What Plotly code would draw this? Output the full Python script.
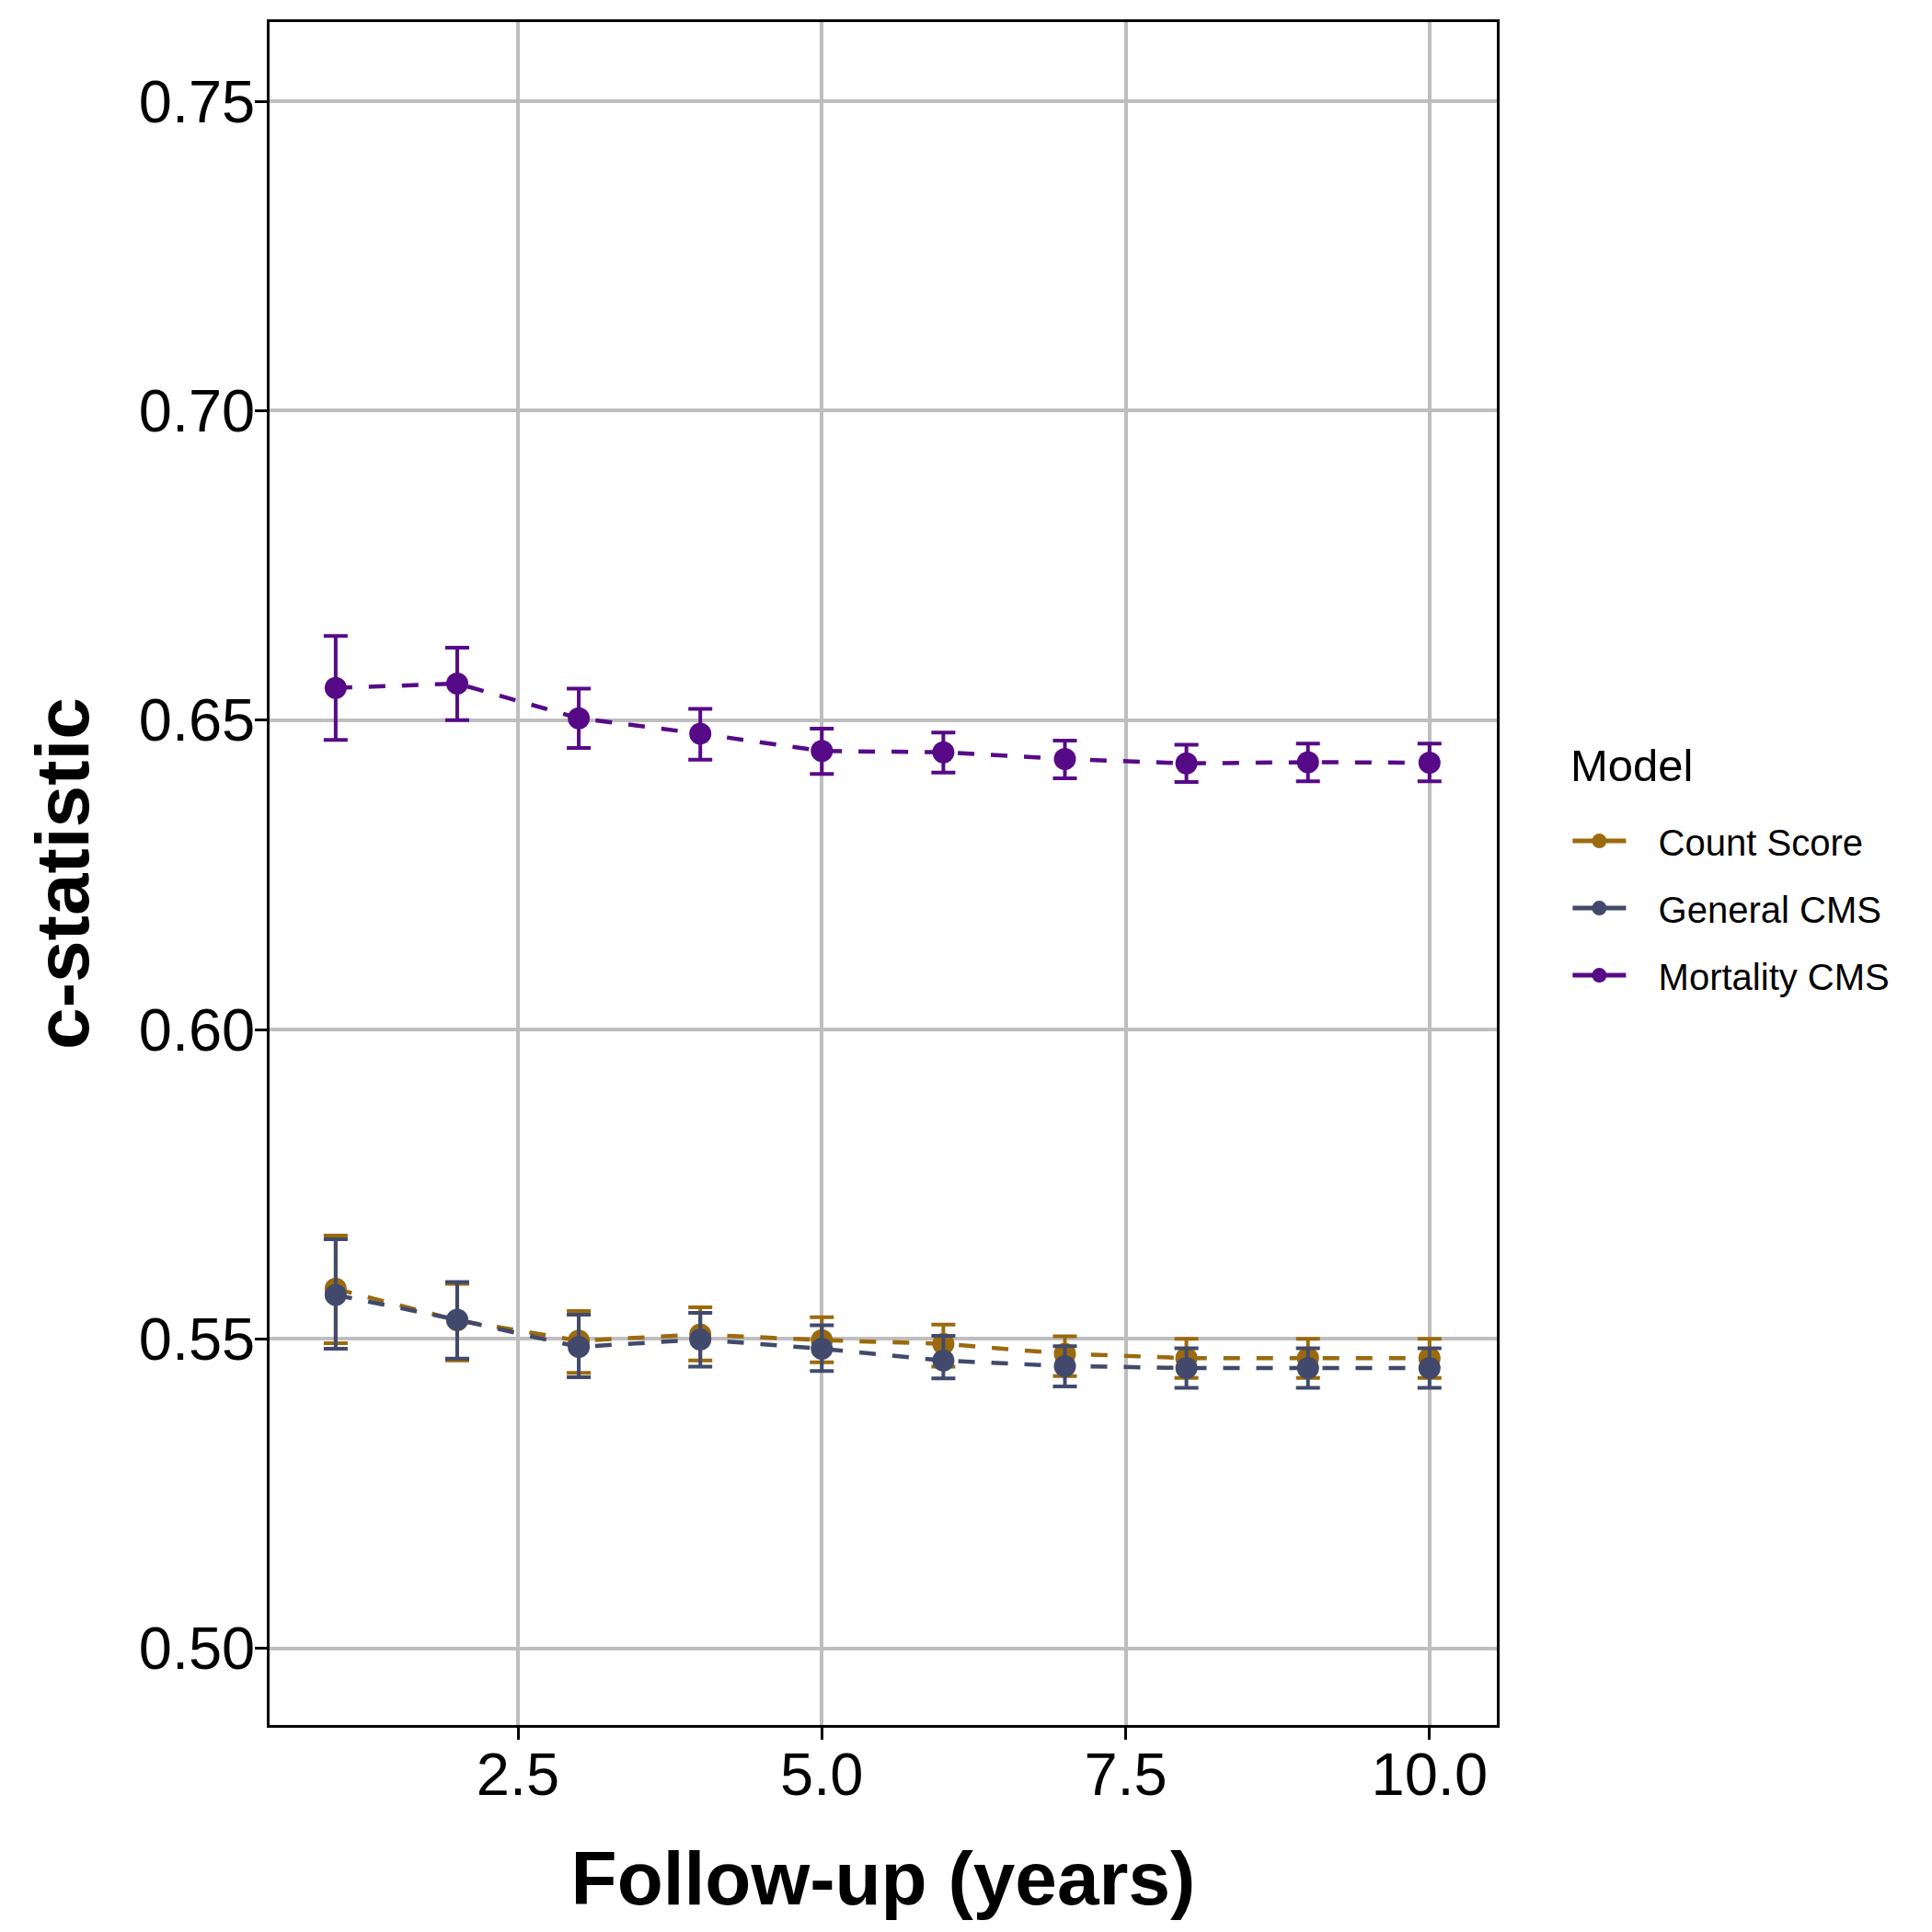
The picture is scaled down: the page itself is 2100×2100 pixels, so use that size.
import plotly.graph_objects as go

years = [1, 2, 3, 4, 5, 6, 7, 8, 9, 10]
models = ["Count Score", "General CMS", "Mortality CMS"]

count_score = [0.5581, 0.5530, 0.5497, 0.5507, 0.5498, 0.5492, 0.5476, 0.5469, 0.5469, 0.5469]
count_lo = [0.5493, 0.5465, 0.5445, 0.5465, 0.5462, 0.5455, 0.5440, 0.5437, 0.5437, 0.5437]
count_hi = [0.5667, 0.5589, 0.5545, 0.5551, 0.5535, 0.5523, 0.5504, 0.5500, 0.5500, 0.5500]

general_cms = [0.5571, 0.5531, 0.5487, 0.5499, 0.5484, 0.5465, 0.5456, 0.5453, 0.5453, 0.5453]
general_lo = [0.5484, 0.5468, 0.5438, 0.5455, 0.5448, 0.5436, 0.5423, 0.5421, 0.5421, 0.5421]
general_hi = [0.5661, 0.5592, 0.5539, 0.5542, 0.5522, 0.5505, 0.5488, 0.5485, 0.5485, 0.5485]

mortality_cms = [0.6552, 0.6559, 0.6503, 0.6478, 0.6450, 0.6448, 0.6437, 0.6430, 0.6432, 0.6431]
mortality_lo = [0.6468, 0.6500, 0.6455, 0.6436, 0.6413, 0.6415, 0.6406, 0.6400, 0.6401, 0.6401]
mortality_hi = [0.6636, 0.6617, 0.6551, 0.6518, 0.6486, 0.6480, 0.6467, 0.6460, 0.6462, 0.6462]

y_ticks = [0.50, 0.55, 0.60, 0.65, 0.70, 0.75]
x_ticks = [2.5, 5.0, 7.5, 10.0]

colors = ["#9B6A0E", "#414A6C", "#570A87"]
FONT = "Liberation Sans, Arial, sans-serif"


def make_trace(name, values, lo, hi, color):
    return go.Scatter(
        x=years,
        y=values,
        name=name,
        showlegend=False,
        mode="lines+markers",
        line=dict(color=color, width=4.5, dash="18px,18px"),
        marker=dict(color=color, size=24),
        error_y=dict(
            type="data",
            symmetric=False,
            array=[h - v for h, v in zip(hi, values)],
            arrayminus=[v - l for v, l in zip(values, lo)],
            color=color,
            thickness=4,
            width=13,
        ),
    )


def legend_key(name, color):
    # empty trace, only used to get a solid-line key like ggplot's legend
    return go.Scatter(
        x=[None],
        y=[None],
        name="\u00a0\u00a0\u2009" + name,
        legendgroup=name,
        mode="lines+markers",
        line=dict(color=color, width=5),
        marker=dict(color=color, size=24),
    )


fig = go.Figure()
fig.add_traces([
    make_trace(models[0], count_score, count_lo, count_hi, colors[0]),
    make_trace(models[1], general_cms, general_lo, general_hi, colors[1]),
    make_trace(models[2], mortality_cms, mortality_lo, mortality_hi, colors[2]),
])
fig.add_traces([legend_key(m, c) for m, c in zip(models, colors)])

axis_common = dict(
    showgrid=True,
    gridcolor="#BEBEBE",
    gridwidth=3.5,
    showline=True,
    linecolor="black",
    linewidth=2.5,
    mirror=True,
    ticks="outside",
    ticklen=13,
    tickwidth=2.5,
    tickcolor="black",
    zeroline=False,
    tickfont=dict(family=FONT, size=65, color="black"),
)

# the page body adds an 8px offset, so margins are pulled in by 8px
fig.update_layout(
    width=2100,
    height=2100,
    margin=dict(l=285, r=481, t=16, b=233),
    plot_bgcolor="white",
    paper_bgcolor="white",
    font=dict(family=FONT, color="black"),
    xaxis=dict(
        **axis_common,
        range=[0.456, 10.554],
        tickvals=x_ticks,
        ticktext=["2.5", "5.0", "7.5", "10.0"],
        ticklabelstandoff=-18,
        title=dict(text="<b>Follow-up (years)</b>", font=dict(family=FONT, size=82), standoff=49),
    ),
    yaxis=dict(
        **axis_common,
        range=[0.4876, 0.7628],
        tickvals=y_ticks,
        ticktext=["0.50", "0.55", "0.60", "0.65", "0.70", "0.75"],
        ticklabelstandoff=-13,
        title=dict(text="<b>c-statistic</b>", font=dict(family=FONT, size=82), standoff=28),
    ),
    legend=dict(
        x=1.058,
        xanchor="left",
        y=0.4797,
        yanchor="middle",
        font=dict(family=FONT, size=40),
        tracegroupgap=18,
        itemwidth=58,
        bgcolor="rgba(0,0,0,0)",
    ),
    annotations=[
        dict(
            text="Model",
            xref="paper",
            yref="paper",
            x=1.0583,
            y=0.5635,
            xanchor="left",
            yanchor="middle",
            showarrow=False,
            font=dict(family=FONT, size=49),
        )
    ],
)

fig.write_html("out.html")
